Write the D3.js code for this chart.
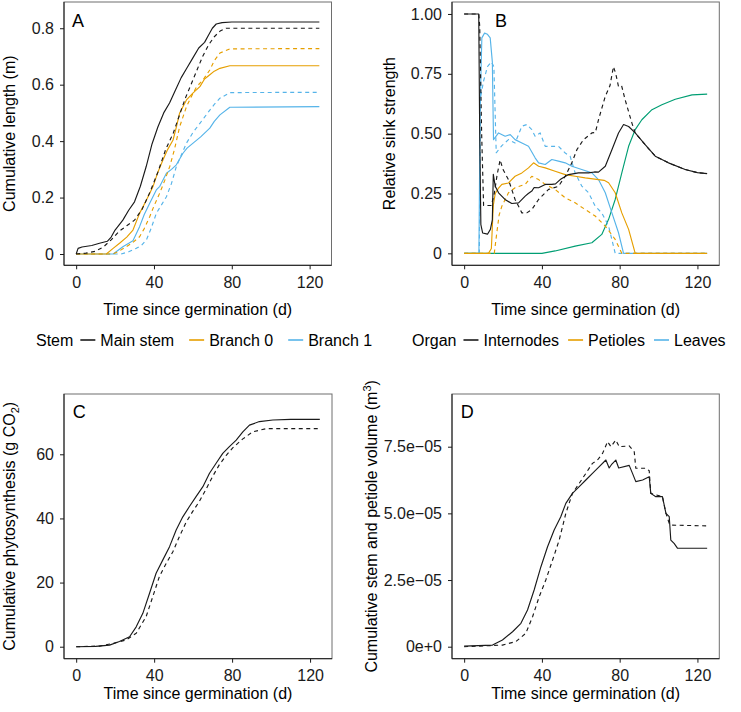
<!DOCTYPE html>
<html>
<head>
<meta charset="utf-8">
<script src="https://cdn.jsdelivr.net/npm/d3@7"></script>
<style>
  html, body { margin: 0; padding: 0; background: #fff; }
  svg { display: block; }
  text { font-family: "Liberation Sans", Arial, Helvetica, sans-serif; }
</style>
</head>
<body>
<svg id="chart" width="741" height="712"></svg>
<script>
// ---------------- DATA ----------------
const xTicks = [0, 40, 80, 120];
const xTickLabels = ["0", "40", "80", "120"];
const xTitle = "Time since germination (d)";

// Panel A: cumulative length (m)
const aTicks = [0, 0.2, 0.4, 0.6, 0.8];
const aTickLabels = ["0", "0.2", "0.4", "0.6", "0.8"];
const aMainSolid = [[0,0],[1,0.02],[3,0.025],[8,0.03],[12,0.038],[16,0.045],[18,0.06],[20,0.085],[24,0.12],[27,0.155],[30,0.185],[33,0.24],[36,0.31],[39,0.39],[42,0.45],[45,0.5],[48,0.535],[51,0.58],[54,0.625],[57,0.66],[60,0.695],[63,0.73],[66,0.75],[68,0.775],[70,0.8],[72,0.815],[75,0.82],[80,0.822],[125,0.822]];
const aMainDashed = [[0,0],[5,0.003],[10,0.01],[14,0.025],[18,0.05],[22,0.08],[26,0.1],[30,0.12],[34,0.16],[38,0.22],[42,0.29],[46,0.37],[50,0.43],[53,0.49],[56,0.55],[59,0.6],[62,0.65],[65,0.7],[68,0.74],[71,0.77],[74,0.79],[77,0.8],[125,0.8]];
const aBr0Solid = [[0,0],[15.5,0],[19,0.02],[22.3,0.038],[26,0.06],[29.2,0.085],[32.6,0.144],[36,0.19],[39.5,0.239],[42,0.29],[44.6,0.333],[47,0.37],[49.8,0.404],[51.5,0.45],[53.2,0.5],[56.7,0.546],[60,0.57],[63.6,0.593],[66,0.62],[68.7,0.635],[71,0.648],[73.9,0.658],[79,0.667],[125,0.667]];
const aBr0Dashed = [[0,0],[18.9,0],[22,0.01],[25.8,0.026],[29,0.04],[32.6,0.061],[35,0.09],[37.8,0.132],[40,0.17],[42.9,0.215],[45.5,0.26],[48.1,0.31],[50.5,0.37],[53.2,0.451],[56.7,0.522],[59,0.555],[61.9,0.593],[65,0.615],[68.7,0.652],[71,0.685],[73.9,0.712],[79,0.727],[125,0.728]];
const aBr1Solid = [[0,0],[19,0],[24,0.026],[29.2,0.047],[32.6,0.097],[35,0.14],[37.8,0.18],[41.2,0.227],[43,0.24],[46.4,0.286],[49,0.3],[51.5,0.316],[54.9,0.357],[57,0.375],[60.1,0.393],[64,0.415],[68.7,0.446],[71,0.47],[73.9,0.493],[79,0.52],[125,0.522]];
const aBr1Dashed = [[0,0],[23,0],[27,0.008],[30.9,0.02],[33.5,0.03],[36.1,0.05],[38.5,0.09],[41.2,0.144],[43.5,0.17],[46.4,0.203],[49,0.25],[51.5,0.31],[54,0.35],[56.7,0.393],[60,0.43],[63.6,0.463],[66,0.485],[68.7,0.51],[71,0.53],[73.9,0.552],[79,0.572],[125,0.573]];

// Panel B: relative sink strength
const bTicks = [0, 0.25, 0.5, 0.75, 1];
const bTickLabels = ["0", "0.25", "0.50", "0.75", "1.00"];
const bIntSolid = [[0,1],[7.5,1],[8,0.5],[8.6,0.12],[9.5,0.085],[12,0.08],[13.5,0.1],[14.5,0.14],[15,0.33],[16,0.28],[17.7,0.253],[21,0.225],[24.5,0.208],[28,0.211],[31.4,0.239],[33,0.25],[34.8,0.26],[36,0.275],[38.3,0.274],[41.7,0.288],[45.1,0.288],[47,0.29],[49.4,0.308],[53.7,0.329],[58.8,0.336],[64,0.336],[67,0.34],[69.1,0.339],[72.6,0.364],[76,0.433],[79.4,0.503],[82,0.538],[84.6,0.53],[88,0.503],[93.1,0.454],[98.3,0.406],[105.1,0.378],[113.7,0.35],[120,0.337],[125,0.333]];
const bIntDashed = [[0,1],[7.5,1],[8,0.95],[9,0.5],[10,0.2],[14,0.2],[15.5,0.25],[17,0.33],[18.5,0.39],[20,0.35],[22.8,0.308],[26.2,0.225],[29.7,0.169],[32.2,0.169],[34.8,0.183],[38.3,0.225],[43.4,0.267],[48.5,0.28],[52,0.322],[55.4,0.378],[58,0.433],[61.4,0.475],[65.7,0.503],[67.5,0.505],[69.1,0.558],[72.6,0.656],[75,0.7],[76.8,0.78],[78,0.75],[79.4,0.697],[81,0.7],[82.8,0.642],[86.3,0.544],[88,0.503],[93.1,0.454],[98.3,0.406],[105.1,0.378],[113.7,0.35],[120,0.337],[125,0.333]];
const bPetSolid = [[0,0],[12.5,0],[14,0.02],[15,0.2],[16,0.25],[17.5,0.27],[19.4,0.288],[22.8,0.294],[26.2,0.322],[29.7,0.336],[33.1,0.357],[35.7,0.378],[38.3,0.364],[41.7,0.357],[46.8,0.343],[52,0.329],[57.1,0.322],[62.3,0.315],[69.1,0.308],[72,0.305],[74.3,0.295],[77.7,0.253],[81.1,0.169],[84.6,0.1],[88,0],[125,0]];
const bPetDashed = [[0,0],[15.5,0],[16.8,0.086],[18,0.16],[19.4,0.197],[22.8,0.253],[26.2,0.274],[31.4,0.288],[34.8,0.322],[38.3,0.308],[41.7,0.288],[46.8,0.267],[52,0.232],[57.1,0.211],[62.3,0.183],[67.4,0.156],[72.6,0.114],[77.7,0.058],[81.1,0],[125,0]];
const bLeafSolid = [[0,0],[7.6,0],[8.2,0.6],[9.1,0.9],[10.5,0.92],[12,0.915],[13.4,0.9],[14.5,0.8],[15.1,0.475],[17.7,0.503],[21.1,0.489],[23.7,0.496],[26.2,0.475],[29.7,0.461],[33.1,0.447],[36.5,0.399],[38.3,0.378],[41.7,0.371],[45.1,0.392],[48.5,0.385],[52,0.378],[55.4,0.364],[60.5,0.35],[65.7,0.336],[69.1,0.308],[72.6,0.253],[76,0.169],[79.4,0.086],[82,0],[125,0]];
const bLeafDashed = [[0,0],[7.8,0],[8.4,0.65],[10,0.72],[12,0.78],[14,0.8],[15.3,0.78],[16.5,0.42],[19.4,0.45],[22.8,0.475],[26.2,0.461],[29.7,0.531],[32.2,0.538],[34.8,0.517],[36.5,0.489],[39.1,0.503],[41.7,0.447],[45.1,0.447],[48.5,0.447],[52,0.419],[54.5,0.406],[57.1,0.336],[60.5,0.281],[64,0.253],[67.4,0.197],[70.8,0.169],[74.3,0.114],[77.7,0],[125,0]];
const bGreen = [[0,0],[40,0],[46.8,0.01],[57.1,0.03],[65.7,0.044],[70.8,0.079],[74.3,0.142],[77.7,0.225],[81.1,0.336],[84.6,0.447],[88,0.517],[91.4,0.558],[96.6,0.6],[101.7,0.621],[108.6,0.644],[117.2,0.662],[125,0.665]];

// Panel C: cumulative photosynthesis (g CO2)
const cTicks = [0, 20, 40, 60];
const cTickLabels = ["0", "20", "40", "60"];
const cSolid = [[0,0],[10,0.1],[17.1,0.5],[22.2,1.6],[27.4,3.1],[30.8,6.2],[34.2,10.4],[37.6,16.6],[41,22.9],[44.4,27],[47.9,31.2],[51.3,36.4],[54.7,40.5],[58.1,43.7],[61.5,46.8],[65,49.9],[68.4,54.1],[71.8,57.2],[75.2,60.3],[78.6,62.4],[82.1,64.4],[85.5,67],[88.9,69.1],[94,70.2],[100.9,70.7],[110,70.9],[125,70.9]];
const cDashed = [[0,0],[12,0.2],[18.8,1],[25.6,2.1],[30.8,4.2],[35.9,9.4],[39.3,15.6],[42.7,21.9],[46.2,26],[49.6,29.6],[53,34.4],[56.4,38.8],[59.8,42.2],[63.2,45.3],[66.7,49.2],[70.1,53.2],[73.5,56.8],[76.9,59.6],[80.3,62],[85.5,64.8],[90.6,67],[97.4,68],[110,68],[125,68]];

// Panel D: cumulative stem and petiole volume (m3)
const dTicks = [0, 2.5e-5, 5e-5, 7.5e-5];
const dTickLabels = ["0e+0", "2.5e\u221205", "5.0e\u221205", "7.5e\u221205"];
const dSolid = [[0,0.02e-5],[14.6,0.06e-5],[19.7,0.25e-5],[24.9,0.56e-5],[29.2,0.875e-5],[32.6,1.375e-5],[36,2.125e-5],[39.5,3.0e-5],[42.9,3.75e-5],[46.3,4.375e-5],[49.7,4.875e-5],[52.3,5.375e-5],[55.7,5.75e-5],[59.2,6.0e-5],[62.6,6.25e-5],[66,6.5e-5],[69.5,6.75e-5],[72.9,7.0e-5],[74.6,6.7e-5],[76,6.85e-5],[78,7.0e-5],[79.5,6.7e-5],[84.9,6.8e-5],[86.6,6.5e-5],[88.3,6.19e-5],[91.8,6.25e-5],[95.2,6.375e-5],[96,5.75e-5],[98.6,5.625e-5],[102,5.625e-5],[103.8,5.0e-5],[105.5,4.875e-5],[106.3,4.0e-5],[108,3.875e-5],[109.8,3.69e-5],[125,3.69e-5]];
const dDashed = [[0,0],[19.7,0.06e-5],[26.6,0.19e-5],[31.7,0.5e-5],[35.2,1.125e-5],[38.6,1.875e-5],[42,2.5e-5],[45.5,3.25e-5],[48.9,4.0e-5],[52.3,5.0e-5],[55.7,5.75e-5],[59.2,6.125e-5],[62.6,6.5e-5],[66,6.875e-5],[68.6,7.0e-5],[71.2,7.25e-5],[73.8,7.69e-5],[75.5,7.5e-5],[78,7.75e-5],[79.8,7.5e-5],[84.9,7.53e-5],[87.5,7.31e-5],[88.3,6.69e-5],[93.5,6.69e-5],[95.2,6.6e-5],[96,5.75e-5],[102,5.625e-5],[103.8,5.0e-5],[105.5,4.625e-5],[106.3,4.56e-5],[125,4.53e-5]];

// Legends
const legendA = { title: "Stem", items: ["Main stem", "Branch 0", "Branch 1"] };
const legendB = { title: "Organ", items: ["Internodes", "Petioles", "Leaves"] };

// ---------------- STYLE ----------------
const COL = { black: "#1a1a1a", orange: "#E69F00", blue: "#56B4E9", green: "#009E73" };
const FS = 16;
const svg = d3.select("#chart");

function panel(o) {
  const g = svg.append("g");
  const x = d3.scaleLinear().domain([-6.25, 131.25]).range([o.left, o.right]);
  const y = d3.scaleLinear().domain(o.yDomain).range([o.bottom, o.top]);

  g.append("rect").attr("x", o.left).attr("y", o.top)
    .attr("width", o.right - o.left).attr("height", o.bottom - o.top)
    .attr("fill", "none").attr("stroke", "#6e6e6e").attr("stroke-width", 1);

  const line = d3.line().x(d => x(d[0])).y(d => y(d[1]));
  const clipId = "clip" + o.id;
  g.append("clipPath").attr("id", clipId).append("rect")
    .attr("x", o.left).attr("y", o.top).attr("width", o.right - o.left).attr("height", o.bottom - o.top);
  const lg = g.append("g").attr("clip-path", `url(#${clipId})`);
  o.series.forEach(s => {
    lg.append("path").datum(s.data).attr("d", line)
      .attr("fill", "none").attr("stroke", s.color)
      .attr("stroke-width", 1.15)
      .attr("stroke-linejoin", "round")
      .attr("stroke-dasharray", s.dashed ? "4,3.5" : null);
  });

  const ax = g.append("g").attr("transform", `translate(0,${o.bottom})`)
    .call(d3.axisBottom(x).tickValues(xTicks).tickFormat((d, i) => xTickLabels[i]).tickSize(4).tickPadding(7));
  const ay = g.append("g").attr("transform", `translate(${o.left},0)`)
    .call(d3.axisLeft(y).tickValues(o.yTicks).tickFormat((d, i) => o.yTickLabels[i]).tickSize(4).tickPadding(6));
  [ax, ay].forEach(a => {
    a.select(".domain").attr("stroke", "#1a1a1a");
    a.selectAll(".tick line").attr("stroke", "#1a1a1a");
    a.selectAll(".tick text").attr("fill", "#1a1a1a").style("font-size", FS + "px")
      .style("font-family", '"Liberation Sans", Arial, Helvetica, sans-serif');
  });
  ax.select(".domain").attr("d", `M${o.left},0H${o.right}`);
  ay.select(".domain").attr("d", `M0,${o.bottom}V${o.top}`);

  g.append("text").attr("x", o.left + o.letterDx).attr("y", o.top + o.letterDy)
    .attr("font-size", 18).attr("fill", "#000").text(o.letter);

  g.append("text").attr("x", (o.left + o.right) / 2).attr("y", o.xTitleY)
    .attr("text-anchor", "middle").attr("font-size", FS).attr("fill", "#000").text(xTitle);

  const yt = g.append("text")
    .attr("transform", `translate(${o.yTitleX},${(o.top + o.bottom) / 2}) rotate(-90)`)
    .attr("text-anchor", "middle").attr("font-size", FS).attr("fill", "#000");
  o.yTitle(yt);
}

panel({
  id: "A", letter: "A", left: 64, right: 331.5, top: 2, bottom: 265.3,
  yDomain: [-0.04, 0.893], yTicks: aTicks, yTickLabels: aTickLabels,
  letterDx: 8, letterDy: 25, xTitleY: 315, yTitleX: 15,
  yTitle: t => t.text("Cumulative length (m)"),
  series: [
    { data: aBr1Dashed, color: COL.blue, dashed: true },
    { data: aBr1Solid, color: COL.blue },
    { data: aBr0Dashed, color: COL.orange, dashed: true },
    { data: aBr0Solid, color: COL.orange },
    { data: aMainDashed, color: COL.black, dashed: true },
    { data: aMainSolid, color: COL.black }
  ]
});

panel({
  id: "B", letter: "B", left: 452, right: 719.3, top: 2, bottom: 265.3,
  yDomain: [-0.05, 1.05], yTicks: bTicks, yTickLabels: bTickLabels,
  letterDx: 43, letterDy: 25, xTitleY: 315, yTitleX: 395,
  yTitle: t => t.text("Relative sink strength"),
  series: [
    { data: bGreen, color: COL.green },
    { data: bLeafDashed, color: COL.blue, dashed: true },
    { data: bLeafSolid, color: COL.blue },
    { data: bPetDashed, color: COL.orange, dashed: true },
    { data: bPetSolid, color: COL.orange },
    { data: bIntDashed, color: COL.black, dashed: true },
    { data: bIntSolid, color: COL.black }
  ]
});

panel({
  id: "C", letter: "C", left: 64, right: 332, top: 394, bottom: 658.7,
  yDomain: [-3.74, 78.8], yTicks: cTicks, yTickLabels: cTickLabels,
  letterDx: 8.7, letterDy: 24, xTitleY: 699, yTitleX: 15,
  yTitle: t => {
    t.append("tspan").text("Cumulative phytosynthesis (g CO");
    t.append("tspan").attr("font-size", 11).attr("dy", 4).text("2");
    t.append("tspan").attr("dy", -4).text(")");
  },
  series: [
    { data: cDashed, color: COL.black, dashed: true },
    { data: cSolid, color: COL.black }
  ]
});

panel({
  id: "D", letter: "D", left: 452, right: 719.3, top: 394, bottom: 658.7,
  yDomain: [-0.45e-5, 9.476e-5], yTicks: dTicks, yTickLabels: dTickLabels,
  letterDx: 8.7, letterDy: 24, xTitleY: 699, yTitleX: 377,
  yTitle: t => {
    t.append("tspan").text("Cumulative stem and petiole volume (m");
    t.append("tspan").attr("font-size", 11).attr("dy", -6).text("3");
    t.append("tspan").attr("dy", 6).text(")");
  },
  series: [
    { data: dDashed, color: COL.black, dashed: true },
    { data: dSolid, color: COL.black }
  ]
});

// legends
function legend(L, x0, yBase, colors, gap) {
  const g = svg.append("g");
  const t = g.append("text").attr("x", x0).attr("y", yBase).attr("font-size", FS).attr("fill", "#000").text(L.title);
  let x = x0 + t.node().getComputedTextLength() + 7;
  L.items.forEach((label, i) => {
    g.append("line").attr("x1", x).attr("x2", x + 15).attr("y1", yBase - 6).attr("y2", yBase - 6)
      .attr("stroke", colors[i]).attr("stroke-width", 1.6);
    x += 15 + 5;
    const tt = g.append("text").attr("x", x).attr("y", yBase).attr("font-size", FS).attr("fill", "#000").text(label);
    x += tt.node().getComputedTextLength() + gap;
  });
}
legend(legendA, 36, 346, [COL.black, COL.orange, COL.blue], 15);
legend(legendB, 412, 346, [COL.black, COL.orange, COL.blue], 9);
</script>
</body>
</html>
